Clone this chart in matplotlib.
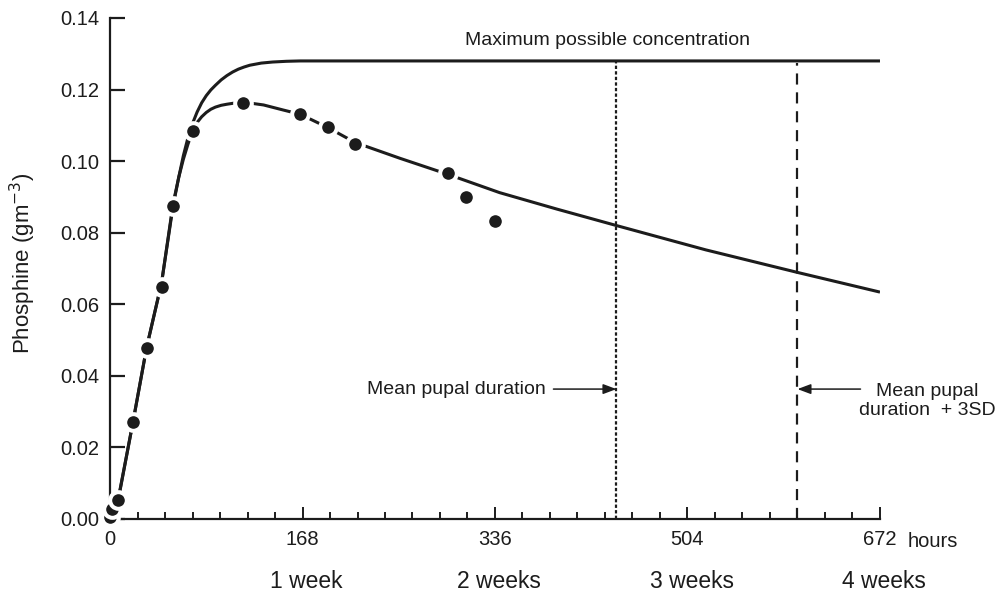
import matplotlib.pyplot as plt
from matplotlib.ticker import MultipleLocator, FormatStrFormatter

pt_hours = [0, 2, 7, 20, 32, 45, 55, 72, 116, 166, 190, 214, 295, 311, 336]
pt_conc = [0.0005, 0.0028, 0.0052, 0.0271, 0.0478, 0.0648, 0.0874, 0.1084,
           0.1162, 0.1131, 0.1095, 0.1047, 0.0966, 0.0899, 0.0832]

fit_hours = [0, 7, 20, 32, 45, 55, 60, 64, 68, 72, 76, 80, 84, 88, 92, 97, 102,
             108, 116, 125, 134, 151, 166, 190, 214, 253, 295, 340, 390, 442,
             520, 600, 672]
fit_conc = [0.0, 0.0053, 0.027, 0.048, 0.066, 0.0874, 0.0955, 0.1005, 0.1047,
            0.1084, 0.1108, 0.1124, 0.1136, 0.1145, 0.1151, 0.1156, 0.1159,
            0.1162, 0.1163, 0.1161, 0.1157, 0.1143, 0.1131, 0.1094, 0.1052,
            0.1008, 0.0963, 0.0912, 0.0866, 0.0820, 0.0752, 0.0689, 0.0634]

max_hours = [0, 7, 20, 32, 45, 55, 60, 64, 68, 72, 76, 80, 84, 88, 92, 97, 102,
             107, 112, 117, 122, 132, 142, 154, 166, 200, 672]
max_conc = [0.0, 0.005, 0.027, 0.048, 0.066, 0.088, 0.0955, 0.1015, 0.1065,
            0.1105, 0.1137, 0.1163, 0.1183, 0.1199, 0.1212, 0.1227, 0.1239,
            0.1249, 0.1257, 0.1263, 0.1268, 0.1274, 0.1277, 0.1279, 0.128,
            0.128, 0.128]

hour_ticks = [0, 168, 336, 504, 672]
week_labels = ["1 week", "2 weeks", "3 weeks", "4 weeks"]
week_hours = [168, 336, 504, 672]

mean_pupal = 442
mean_pupal_3sd = 600
top_line = 0.128

INK = "#1c1c1c"
plt.rcParams["font.family"] = ["Liberation Sans", "DejaVu Sans"]


def dibujar():
    fig = plt.figure(figsize=(10.01, 5.94), dpi=100)
    ax = fig.add_axes([0.1099, 0.1263, 0.7692, 0.8434])

    ax.plot(max_hours, max_conc, color=INK, lw=2.2, solid_capstyle="butt",
            solid_joinstyle="round", zorder=2)
    ax.plot(fit_hours, fit_conc, color=INK, lw=2.2, solid_capstyle="butt",
            solid_joinstyle="round", zorder=2)
    # Punkte mit weissem Rand, der die Linien unterbricht
    ax.plot(pt_hours, pt_conc, "o", ms=12, mfc=INK, mec="white", mew=2.9,
            ls="none", zorder=4, clip_on=False)

    ax.vlines(mean_pupal, 0, top_line, colors=INK, lw=1.6,
              linestyles=[(0, (1.5, 1.0))], zorder=1)
    ax.vlines(mean_pupal_3sd, 0, top_line - 0.0005, colors=INK, lw=1.6,
              linestyles=[(0, (5, 3.5))], zorder=1)

    ax.text(434, 0.1338, "Maximum possible concentration", ha="center",
            va="center", fontsize=14, color=INK)

    arrow = dict(arrowstyle="-|>,head_length=0.8,head_width=0.3", color=INK,
                 lw=1.1, shrinkA=0, shrinkB=0)
    ax.annotate("", xy=(mean_pupal, 0.0363), xytext=(387, 0.0363),
                arrowprops=arrow)
    ax.text(380, 0.0363, "Mean pupal duration", ha="right", va="center",
            fontsize=14, color=INK)
    ax.annotate("", xy=(mean_pupal_3sd, 0.0363), xytext=(655, 0.0363),
                arrowprops=arrow, annotation_clip=False)
    ax.text(713, 0.0330, "Mean pupal\nduration  + 3SD", ha="center",
            va="center", multialignment="center", fontsize=14, color=INK,
            linespacing=1.2)

    ax.set_xlim(0, 672)
    ax.set_ylim(0, 0.14)
    for s in ("top", "right"):
        ax.spines[s].set_visible(False)
    for s in ("left", "bottom"):
        ax.spines[s].set_linewidth(1.6)
        ax.spines[s].set_color(INK)

    ax.set_xticks(hour_ticks)
    ax.xaxis.set_minor_locator(MultipleLocator(24))
    ax.yaxis.set_major_locator(MultipleLocator(0.02))
    ax.yaxis.set_major_formatter(FormatStrFormatter("%.2f"))
    ax.tick_params(axis="y", direction="in", length=10.8, width=1.6, pad=8,
                   labelsize=14.5, colors=INK)
    ax.tick_params(axis="x", which="major", direction="in", length=9, width=1.4,
                   pad=8, labelsize=14.5, colors=INK)
    ax.tick_params(axis="x", which="minor", direction="in", length=5, width=1.4,
                   colors=INK)

    ax.annotate("hours", xy=(672, 0), xytext=(20, -9.5), textcoords="offset points",
                ha="left", va="top", fontsize=14.5, color=INK, annotation_clip=False)
    for h, lab in zip(week_hours, week_labels):
        ax.annotate(lab, xy=(h, 0), xytext=(3, -37), textcoords="offset points",
                    ha="center", va="top", fontsize=16.5, color=INK,
                    annotation_clip=False)

    ax.set_ylabel("Phosphine (gm$^{-3}$)", fontsize=16, color=INK)
    ax.yaxis.set_label_coords(-0.094, 0.51)

    fig.savefig("out.png", dpi=100)


if __name__ == "__main__":
    dibujar()
